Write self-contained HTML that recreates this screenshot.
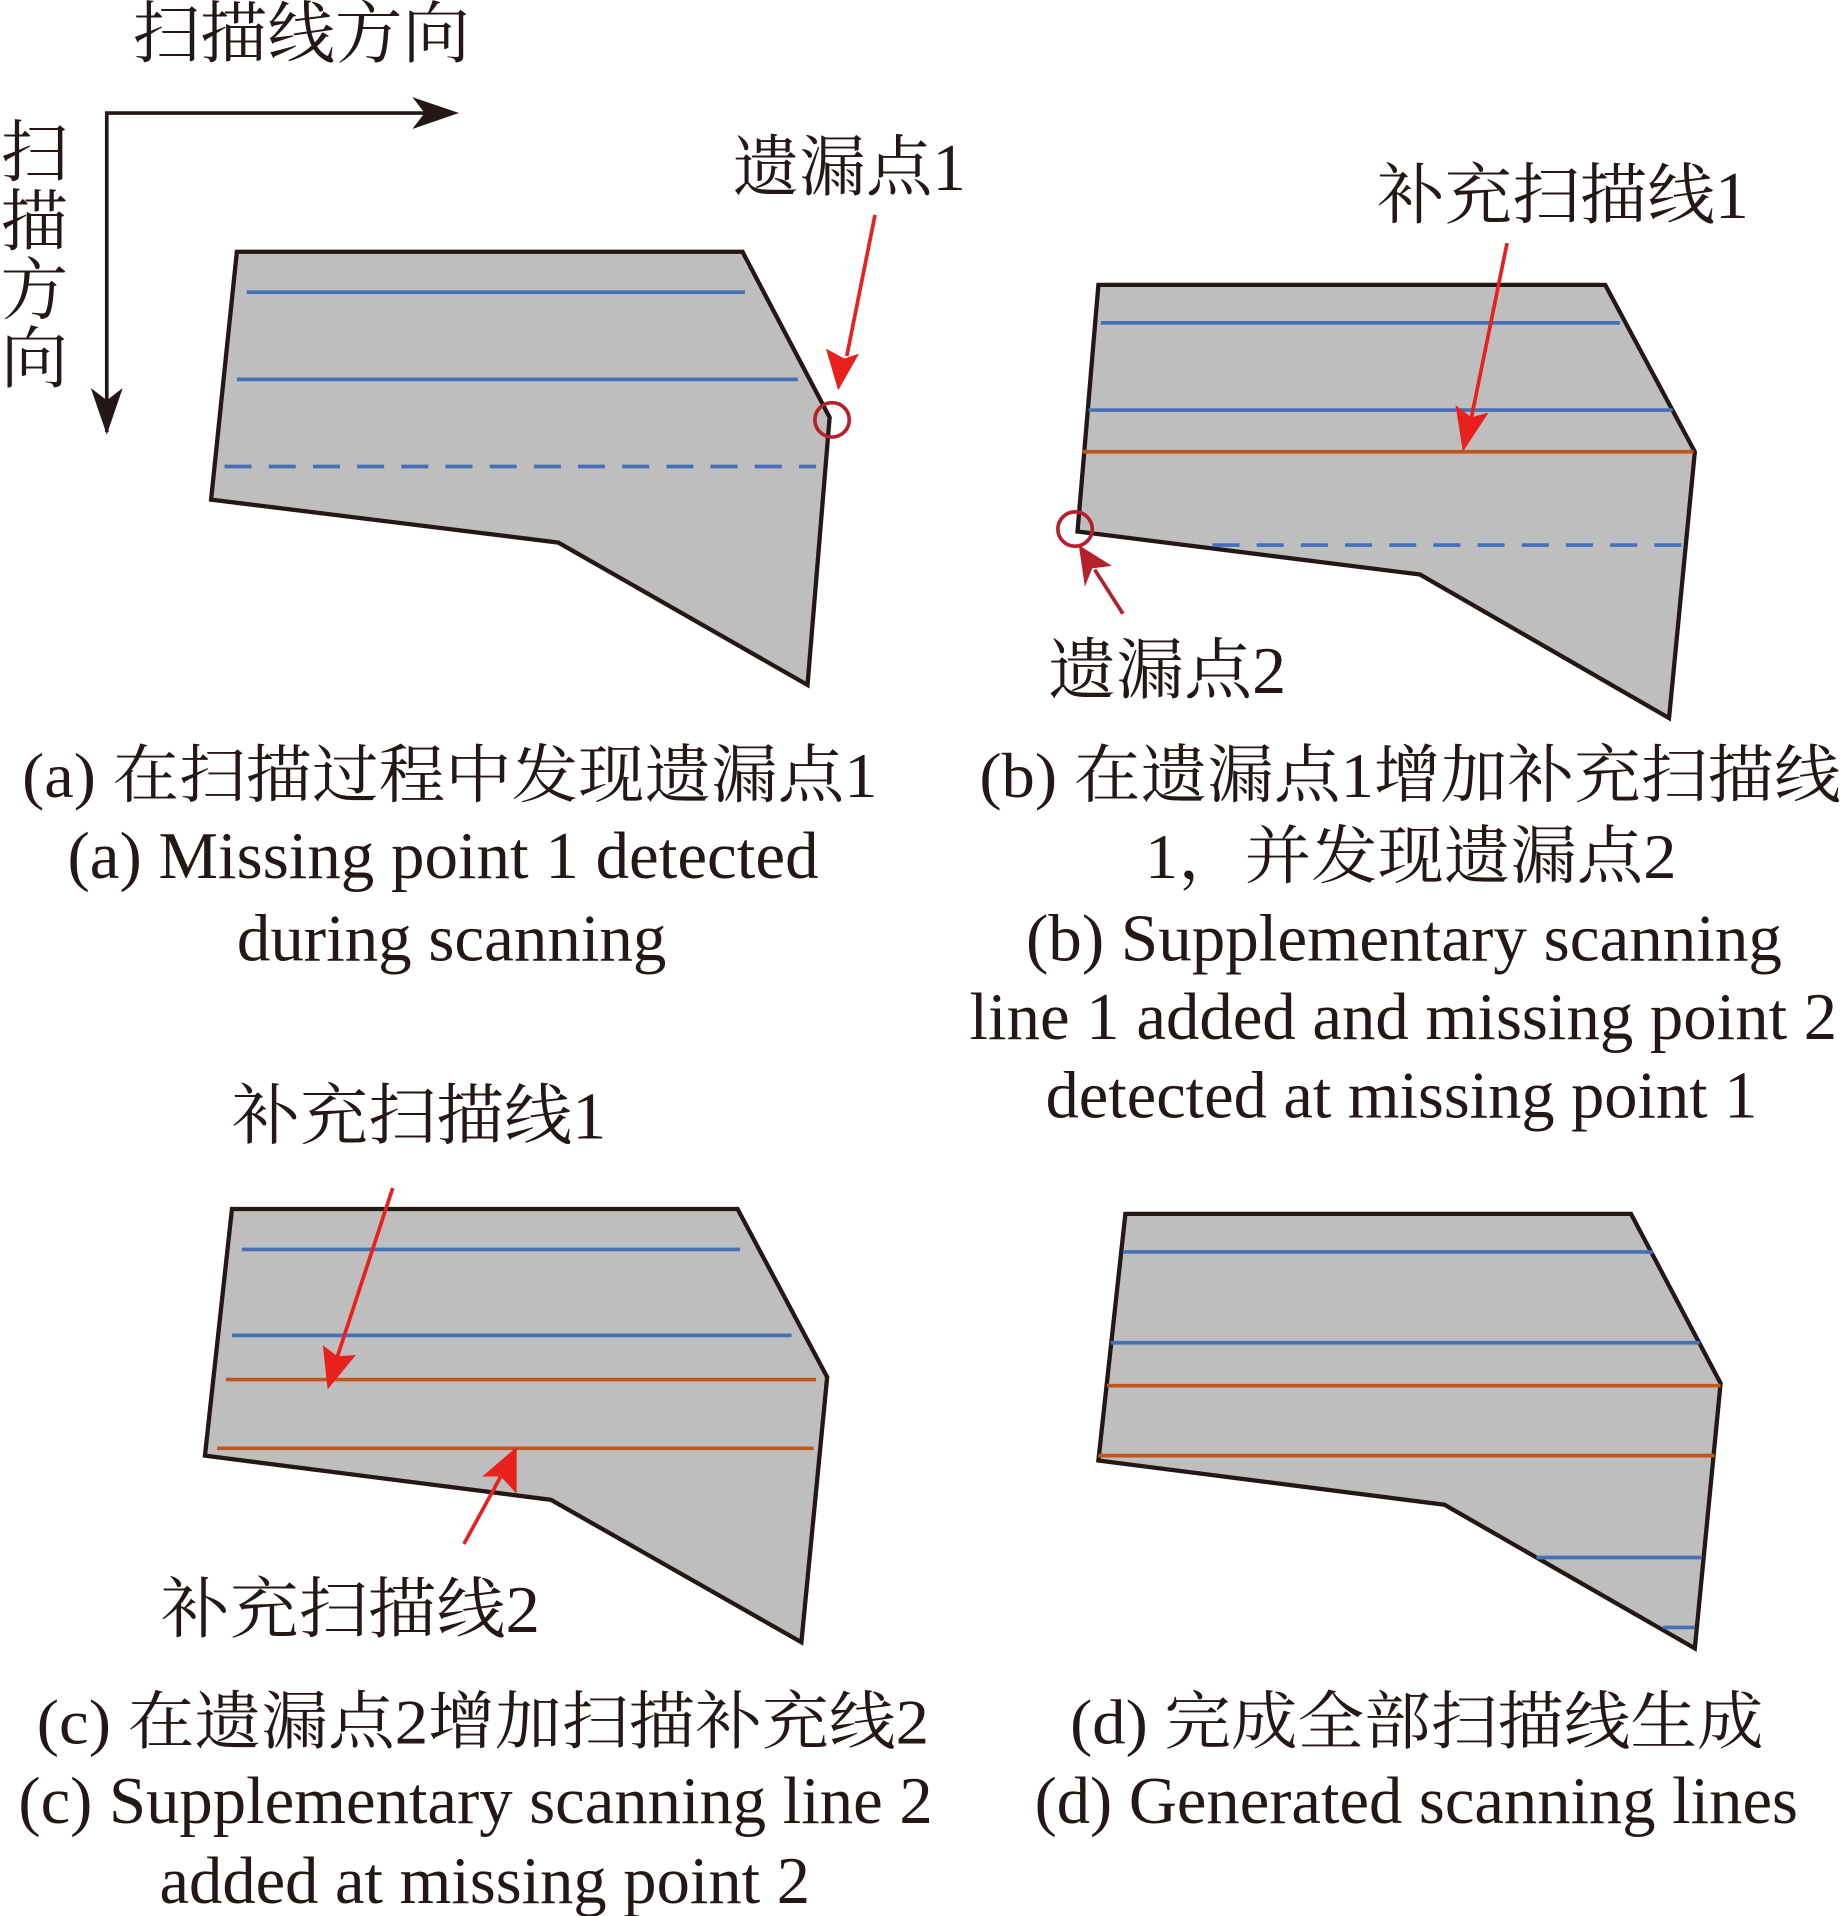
<!DOCTYPE html>
<html><head><meta charset="utf-8"><style>html,body{margin:0;padding:0;background:#fff}svg{display:block}</style></head>
<body>
<svg width="1847" height="1916" viewBox="0 0 1505 1561" xmlns="http://www.w3.org/2000/svg">
<defs>
<marker id="ab" viewBox="0 0 10 10" refX="9" refY="5" markerWidth="8" markerHeight="8" orient="auto" markerUnits="userSpaceOnUse"><path d="M0,0 L10,5 L0,10 L3,5z" fill="#231815"/></marker>
</defs>
<g font-family="'Liberation Serif','Noto Serif CJK SC','Noto Sans CJK SC',serif" fill="#231815" dominant-baseline="central">
<!-- axes -->
<path d="M87,352 L87,92 L360,92" fill="none" stroke="#231815" stroke-width="3"/>
<path d="M374,92 L336,79 L346,92 L336,105z" fill="#231815"/>
<path d="M87,354 L74,316 L87,326 L100,316z" fill="#231815"/>
<text x="108" y="28" font-size="55" textLength="275" lengthAdjust="spacingAndGlyphs">扫描线方向</text>
<text x="28" y="125" font-size="55" text-anchor="middle">扫</text>
<text x="28" y="181" font-size="55" text-anchor="middle">描</text>
<text x="28" y="237" font-size="55" text-anchor="middle">方</text>
<text x="28" y="293" font-size="55" text-anchor="middle">向</text>

<!-- panel a -->
<polygon points="193,205 605,205 676,340 658,558 455,442 172,407" fill="#bebebe" stroke="#231815" stroke-width="3.5"/>
<line x1="201" y1="238" x2="607" y2="238" stroke="#4470b8" stroke-width="3"/>
<line x1="193" y1="309" x2="650" y2="309" stroke="#4470b8" stroke-width="3"/>
<line x1="183" y1="380" x2="665" y2="380" stroke="#4470b8" stroke-width="3" stroke-dasharray="22,14"/>
<circle cx="678" cy="342" r="14" fill="none" stroke="#b5202a" stroke-width="3"/>
<line x1="713" y1="175" x2="690" y2="290" stroke="#e8211d" stroke-width="3"/>
<path d="M683,318 L673,284 L688,292 L700,288z" fill="#e8211d"/>
<text x="597" y="137" font-size="54" textLength="190" lengthAdjust="spacingAndGlyphs">遗漏点1</text>
<text x="18" y="632" font-size="52" textLength="697" lengthAdjust="spacingAndGlyphs">(a) 在扫描过程中发现遗漏点1</text>
<text x="55" y="698" font-size="54" textLength="612" lengthAdjust="spacingAndGlyphs">(a) Missing point 1 detected</text>
<text x="193" y="765" font-size="54" textLength="350" lengthAdjust="spacingAndGlyphs">during scanning</text>

<!-- panel b -->
<polygon points="895,232 1308,232 1381,368 1360,585 1157,468 878,433" fill="#bebebe" stroke="#231815" stroke-width="3.5"/>
<line x1="897" y1="263" x2="1320" y2="263" stroke="#4470b8" stroke-width="3"/>
<line x1="887" y1="334" x2="1363" y2="334" stroke="#4470b8" stroke-width="3"/>
<line x1="882" y1="368" x2="1380" y2="368" stroke="#c0561e" stroke-width="3"/>
<line x1="988" y1="444" x2="1372" y2="444" stroke="#4470b8" stroke-width="3" stroke-dasharray="22,14"/>
<circle cx="876" cy="431" r="14" fill="none" stroke="#b5202a" stroke-width="3"/>
<line x1="915" y1="500" x2="892" y2="464" stroke="#b5202a" stroke-width="3"/>
<path d="M879,444 L906,461 L890,463 L884,478z" fill="#b5202a"/>
<line x1="1228" y1="198" x2="1199" y2="340" stroke="#e8211d" stroke-width="3"/>
<path d="M1192,368 L1186,330 L1199,340 L1213,336z" fill="#e8211d"/>
<text x="1122" y="160" font-size="54" textLength="303" lengthAdjust="spacingAndGlyphs">补充扫描线1</text>
<text x="854" y="547" font-size="54" textLength="194" lengthAdjust="spacingAndGlyphs">遗漏点2</text>
<text x="798" y="632" font-size="52" textLength="702" lengthAdjust="spacingAndGlyphs">(b) 在遗漏点1增加补充扫描线</text>
<text x="933" y="698" font-size="52" textLength="433" lengthAdjust="spacingAndGlyphs">1，并发现遗漏点2</text>
<text x="836" y="765" font-size="54" textLength="616" lengthAdjust="spacingAndGlyphs">(b) Supplementary scanning</text>
<text x="790" y="829" font-size="54" textLength="707" lengthAdjust="spacingAndGlyphs">line 1 added and missing point 2</text>
<text x="852" y="893" font-size="54" textLength="580" lengthAdjust="spacingAndGlyphs">detected at missing point 1</text>

<!-- panel c -->
<polygon points="189,985 601,985 674,1122 653,1338 449,1222 167,1186" fill="#bebebe" stroke="#231815" stroke-width="3.5"/>
<line x1="197" y1="1018" x2="603" y2="1018" stroke="#4470b8" stroke-width="3"/>
<line x1="189" y1="1088" x2="645" y2="1088" stroke="#4470b8" stroke-width="3"/>
<line x1="184" y1="1124" x2="665" y2="1124" stroke="#c0561e" stroke-width="3"/>
<line x1="177" y1="1180" x2="663" y2="1180" stroke="#c0561e" stroke-width="3"/>
<line x1="320" y1="968" x2="275" y2="1105" stroke="#e8211d" stroke-width="3"/>
<path d="M267,1132 L263,1096 L275,1105 L290,1104z" fill="#e8211d"/>
<line x1="378" y1="1258" x2="408" y2="1203" stroke="#e8211d" stroke-width="3"/>
<path d="M421,1179 L421,1217 L408,1203 L393,1203z" fill="#e8211d"/>
<text x="189" y="910" font-size="54" textLength="305" lengthAdjust="spacingAndGlyphs">补充扫描线1</text>
<text x="131" y="1312" font-size="54" textLength="309" lengthAdjust="spacingAndGlyphs">补充扫描线2</text>
<text x="30" y="1403" font-size="52" textLength="727" lengthAdjust="spacingAndGlyphs">(c) 在遗漏点2增加扫描补充线2</text>
<text x="15" y="1468" font-size="54" textLength="745" lengthAdjust="spacingAndGlyphs">(c) Supplementary scanning line 2</text>
<text x="130" y="1533" font-size="54" textLength="530" lengthAdjust="spacingAndGlyphs">added at missing point 2</text>

<!-- panel d -->
<polygon points="917,989 1329,989 1402,1127 1381,1343 1177,1226 895,1190" fill="#bebebe" stroke="#231815" stroke-width="3.5"/>
<line x1="915" y1="1020" x2="1347" y2="1020" stroke="#4470b8" stroke-width="3"/>
<line x1="905" y1="1094" x2="1385" y2="1094" stroke="#4470b8" stroke-width="3"/>
<line x1="902" y1="1129" x2="1402" y2="1129" stroke="#c0561e" stroke-width="3"/>
<line x1="895" y1="1186" x2="1397" y2="1186" stroke="#c0561e" stroke-width="3"/>
<line x1="1252" y1="1269" x2="1386" y2="1269" stroke="#4470b8" stroke-width="3"/>
<line x1="1355" y1="1326" x2="1381" y2="1326" stroke="#4470b8" stroke-width="3"/>
<text x="872" y="1403" font-size="52" textLength="565" lengthAdjust="spacingAndGlyphs">(d) 完成全部扫描线生成</text>
<text x="843" y="1468" font-size="54" textLength="622" lengthAdjust="spacingAndGlyphs">(d) Generated scanning lines</text>
</g>
</svg>
</body></html>
